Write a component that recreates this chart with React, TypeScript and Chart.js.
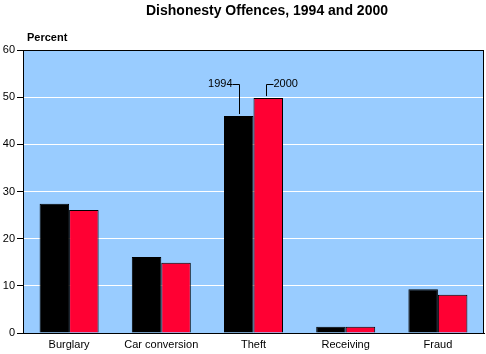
import React, { useEffect, useRef } from "react";
import { Chart, registerables } from "chart.js";

Chart.register(...registerables);

const categories = ["Burglary", "Car conversion", "Theft", "Receiving", "Fraud"];
const values1994 = [27.4, 16.1, 46.0, 1.3, 9.3];
const values2000 = [26.1, 14.9, 49.8, 1.3, 8.1];
const seriesLabels = ["1994", "2000"];
const yTicks = [0, 10, 20, 30, 40, 50, 60];
const titleText = "Dishonesty Offences, 1994 and 2000";
const yAxisTitle = "Percent";
const annotateCategory = "Theft";

const FONT = "'Liberation Sans', Arial, sans-serif";

const decorPlugin = {
  id: "decor",
  beforeDraw(chart: any) {
    const { ctx, chartArea: a } = chart;
    ctx.save();
    ctx.fillStyle = "#ffffff";
    ctx.fillRect(0, 0, chart.width, chart.height);
    ctx.fillStyle = "#99CCFF";
    ctx.fillRect(a.left, a.top, a.right - a.left, a.bottom - a.top);
    ctx.restore();
  },
  afterDraw(chart: any) {
    const { ctx, chartArea: a } = chart;
    ctx.save();
    ctx.strokeStyle = "#000";
    ctx.lineWidth = 1;
    ctx.strokeRect(Math.round(a.left) + 0.5, Math.round(a.top) + 0.5, Math.round(a.right - a.left) - 1, Math.round(a.bottom - a.top));
    // Title
    ctx.fillStyle = "#000";
    ctx.font = "bold 14px " + FONT;
    ctx.textAlign = "center";
    ctx.textBaseline = "middle";
    ctx.fillText(titleText, 267, 11);
    // Axis title
    ctx.font = "bold 11px " + FONT;
    ctx.textAlign = "left";
    ctx.fillText(yAxisTitle, 27, 38);
    // Annotations
    const idx = categories.indexOf(annotateCategory);
    const b0 = chart.getDatasetMeta(0).data[idx];
    const b1 = chart.getDatasetMeta(1).data[idx];
    const yLab = 84;
    ctx.font = "11px " + FONT;
    ctx.lineWidth = 1;
    // 1994
    const x0 = Math.round(b0.x) + 0.5;
    ctx.beginPath();
    ctx.moveTo(x0, b0.y - 2);
    ctx.lineTo(x0, yLab + 0.5);
    ctx.lineTo(x0 - 7, yLab + 0.5);
    ctx.stroke();
    ctx.textAlign = "right";
    ctx.fillText(seriesLabels[0], x0 - 7, yLab);
    // 2000
    const x1 = Math.round(b1.x) - 1.5;
    ctx.beginPath();
    ctx.moveTo(x1, b1.y - 2);
    ctx.lineTo(x1, yLab + 0.5);
    ctx.lineTo(x1 + 7, yLab + 0.5);
    ctx.stroke();
    ctx.textAlign = "left";
    ctx.fillText(seriesLabels[1], x1 + 7, yLab);
    ctx.restore();
  },
};

export default function App() {
  const ref = useRef<HTMLCanvasElement>(null);
  useEffect(() => {
    document.body.style.margin = "0";
    const chart = new Chart(ref.current as HTMLCanvasElement, {
      type: "bar",
      data: {
        labels: categories,
        datasets: [
          {
            label: seriesLabels[0],
            data: values1994,
            backgroundColor: "#000000",
            borderColor: "#000000",
            borderWidth: 1,
            categoryPercentage: 0.64,
            barPercentage: 1,
          },
          {
            label: seriesLabels[1],
            data: values2000,
            backgroundColor: "#FF0033",
            borderColor: "#000000",
            borderWidth: 1,
            categoryPercentage: 0.64,
            barPercentage: 1,
          },
        ],
      },
      options: {
        animation: false,
        responsive: false,
        devicePixelRatio: 1,
        layout: { padding: { top: 50, right: 2, left: 0, bottom: 0 } },
        plugins: {
          legend: { display: false },
          title: { display: false },
          tooltip: { enabled: false },
        },
        scales: {
          x: {
            grid: { display: false, drawTicks: false },
            border: { display: true, color: "#000" },
            ticks: { color: "#000", font: { family: FONT, size: 11 }, padding: 5, maxRotation: 0 },
            afterFit: (s: any) => { s.height = 21; },
          },
          y: {
            min: 0,
            max: 60,
            afterBuildTicks: (s: any) => { s.ticks = yTicks.map((v) => ({ value: v })); },
            grid: { color: "#ffffff", tickColor: "#000", tickLength: 6, lineWidth: 1 },
            border: { display: true, color: "#000" },
            ticks: { color: "#000", font: { family: FONT, size: 11 }, padding: 2 },
            afterFit: (s: any) => { s.width = 23; },
          },
        },
      },
      plugins: [decorPlugin],
    });
    return () => chart.destroy();
  }, []);
  return (
    <div style={{ width: 486, height: 354 }}>
      <canvas ref={ref} width={486} height={354} style={{ display: "block" }} />
    </div>
  );
}
